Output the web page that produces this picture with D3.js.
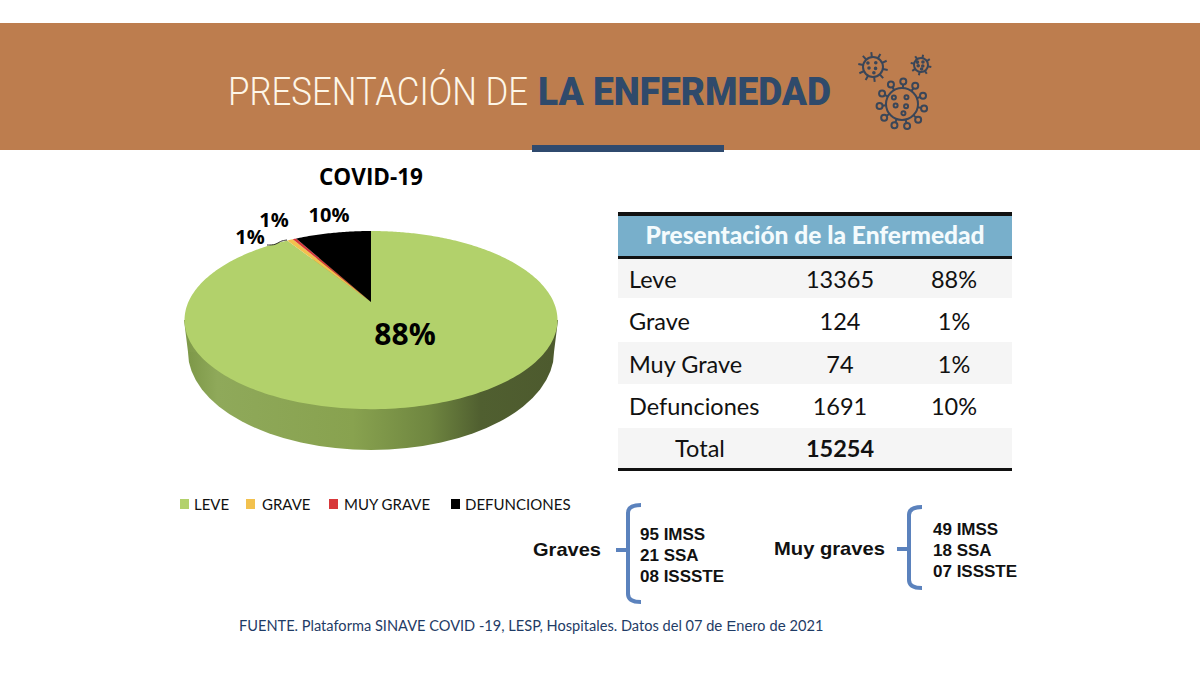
<!DOCTYPE html>
<html><head><meta charset="utf-8">
<script src="https://cdnjs.cloudflare.com/ajax/libs/d3/7.8.5/d3.min.js"></script>
<style>html,body{margin:0;background:#fff}svg{display:block}</style></head>
<body><svg id="c" width="1200" height="674"></svg>
<script>
const categories=["Leve","Grave","Muy Grave","Defunciones"];
const values=[13365,124,74,1691];
const pctLabels=["88%","1%","1%","10%"];
const legendLabels=["LEVE","GRAVE","MUY GRAVE","DEFUNCIONES"];
const sliceColors=["#b2d16b","#f2c14e","#d8383a","#000000"];
const totalLabel="Total", totalValue=15254;
const tableTitle="Presentación de la Enfermedad";
const gravesList=["95 IMSS","21 SSA","08 ISSSTE"];
const muyGravesList=["49 IMSS","18 SSA","07 ISSSTE"];
const source=["FUENTE. Plataforma SINAVE COVID -19, LESP, Hospitales. Datos del 07 ","de Enero de"," 2021"];

const svg=d3.select("#c");
const defs=svg.append("defs");
const LAT="Lato, 'Open Sans', sans-serif", ARI="'Liberation Sans', Arial, sans-serif";

/* banner */
svg.append("rect").attr("x",0).attr("y",23).attr("width",1200).attr("height",127).attr("fill","#bd7d4e");
svg.append("rect").attr("x",532).attr("y",145).attr("width",192).attr("height",7).attr("fill","#2f4a6e");
svg.append("text").attr("x",228).attr("y",105).attr("font-family","Roboto, sans-serif").attr("font-weight",300)
  .attr("font-size",38).attr("fill","#fdf6e8").attr("textLength",300).attr("lengthAdjust","spacingAndGlyphs").text("PRESENTACIÓN DE");
svg.append("text").attr("x",538).attr("y",105).attr("font-family","Roboto, sans-serif").attr("font-weight",900)
  .attr("font-size",38).attr("fill","#2f4a6b").attr("textLength",293).attr("lengthAdjust","spacingAndGlyphs").text("LA ENFERMEDAD");

/* virus icons */
function virus(cx,cy,r,n,knob,sw){
  const g=svg.append("g").attr("transform",`translate(${cx},${cy})`).attr("stroke","#3a4658").attr("fill","none").attr("stroke-width",sw);
  g.append("circle").attr("r",r);
  d3.range(n).forEach(i=>{
    const a=i/n*2*Math.PI+.2, L=r*(knob?1.22:1.5);
    g.append("line").attr("x1",r*Math.cos(a)).attr("y1",r*Math.sin(a)).attr("x2",L*Math.cos(a)).attr("y2",L*Math.sin(a));
    if(knob) g.append("circle").attr("cx",(L+3)*Math.cos(a)).attr("cy",(L+3)*Math.sin(a)).attr("r",3);
  });
  d3.range(5).forEach(i=>{const a=i*2.4+.5, q=r*.65*Math.sqrt((i+1)/5);
    g.append("circle").attr("cx",q*Math.cos(a)).attr("cy",q*Math.sin(a)).attr("r",knob?2:.8).attr("fill",knob?"none":"#3a4658");});
}
virus(873,67,10,10,false,2);
virus(921,65,7,8,false,2);
virus(902,104,16,11,true,2);

/* 3D pie: every slice angle comes from d3.pie, then a perspective projection */
const cx=371,apexY=302,a=182.6,b=85.4,k=0.203,warp=0.3;
const project=(theta)=>{ // theta clockwise from 12 o'clock, data angle
  let s=theta>Math.PI?theta-2*Math.PI:theta;
  const phi=s-warp*Math.sin(s);
  const u=Math.sin(phi),t=-Math.cos(phi),w=1-k*t;
  return [cx+a*u/w,apexY+b*t/w];
};
const pie=d3.pie().sort(null).value(d=>d)(values);
const line=d3.line();
function wedge(d){
  const n=Math.max(4,Math.ceil((d.endAngle-d.startAngle)*60));
  const pts=[[cx,apexY]];
  d3.range(n+1).forEach(i=>pts.push(project(d.startAngle+(d.endAngle-d.startAngle)*i/n)));
  return line(pts)+"Z";
}
const grad=defs.append("linearGradient").attr("id","side");
[[0,"#7d9848"],[.08,"#8fa95a"],[.45,"#88a24f"],[.66,"#6f8640"],[.8,"#505f30"],[1,"#4d5a2e"]]
  .forEach(s=>grad.append("stop").attr("offset",s[0]).attr("stop-color",s[1]));
const side=svg.append("g");
side.append("ellipse").attr("cx",cx).attr("cy",352).attr("rx",183).attr("ry",98).attr("fill","url(#side)");
side.append("path").attr("d","M184,320L188,352L554,352L558,320Z").attr("fill","url(#side)");
svg.append("g").selectAll("path").data(pie).join("path").attr("d",wedge).attr("fill",(d,i)=>sliceColors[i]);
const leader=d3.line().curve(d3.curveBasis)([[267,245],[276,245],[280,241],[287,240]]);
svg.append("path").attr("d",leader).attr("fill","none").attr("stroke","#333").attr("stroke-width",1);

const labelPos=[[405,345,30],[274,227,20],[250,244,20],[329,222,20]];
svg.append("g").selectAll("text").data(pctLabels).join("text")
  .attr("x",(d,i)=>labelPos[i][0]).attr("y",(d,i)=>labelPos[i][1]).attr("font-size",(d,i)=>labelPos[i][2])
  .attr("font-family","'Open Sans', sans-serif").attr("font-weight",700).attr("text-anchor","middle").attr("fill","#000").text(d=>d);
svg.append("text").attr("x",371).attr("y",185).attr("text-anchor","middle").attr("font-family","'Open Sans', sans-serif")
  .attr("font-weight",700).attr("font-size",22.5).attr("fill","#000").text("COVID-19");

/* legend */
const legX=[180,246,329,451], legT=[14,16,15,14];
const lg=svg.append("g").selectAll("g").data(legendLabels).join("g").attr("transform",(d,i)=>`translate(${legX[i]},499)`);
lg.append("rect").attr("width",9).attr("height",10).attr("fill",(d,i)=>sliceColors[i]);
lg.append("text").attr("x",(d,i)=>legT[i]).attr("y",11).attr("font-family",LAT).attr("font-size",15).attr("fill","#111").text(d=>d);

/* table */
const tx=618,tw=394;
const rowY=[258,298,342,384,428,469];
const colX=[629,840,954];
svg.append("rect").attr("x",tx).attr("y",216).attr("width",tw).attr("height",40).attr("fill","#78afcb");
svg.append("text").attr("x",815).attr("y",244).attr("text-anchor","middle").attr("font-family",LAT).attr("font-weight",900)
  .attr("font-size",24.5).attr("fill","#f4fbfd").text(tableTitle);
const rows=categories.map((c,i)=>({c,v:values[i],p:pctLabels[i]}));
const all=[...rows,{c:totalLabel,v:totalValue,p:"",total:true}];
const tg=svg.append("g").selectAll("g").data(all).join("g");
tg.append("rect").attr("x",tx).attr("y",(d,i)=>rowY[i]).attr("width",tw).attr("height",(d,i)=>rowY[i+1]-rowY[i])
  .attr("fill",(d,i)=>i%2==0?"#f5f5f5":"#fff");
const ty=(d,i)=>(rowY[i]+rowY[i+1])/2+(i==4?8:10)-(i==3?1:0);
tg.append("text").attr("x",(d)=>d.total?700:colX[0]).attr("y",ty).attr("text-anchor",d=>d.total?"middle":"start")
  .attr("font-family",LAT).attr("font-size",23.5).attr("fill","#111").text(d=>d.c);
tg.append("text").attr("x",colX[1]).attr("y",ty).attr("text-anchor","middle").attr("font-family",LAT)
  .attr("font-weight",d=>d.total?700:400).attr("font-size",23.5).attr("fill","#111").text(d=>d.v);
tg.append("text").attr("x",colX[2]).attr("y",ty).attr("text-anchor","middle").attr("font-family",LAT)
  .attr("font-size",23.5).attr("fill","#111").text(d=>d.p);
[[212,4],[256,3],[468,3]].forEach(r=>svg.append("rect").attr("x",tx).attr("y",r[0]).attr("width",tw).attr("height",r[1]).attr("fill","#111"));

/* braces */
function brace(x,y0,y1,mid,title,titleX,list,lx,ly){
  const p=d3.path();
  p.moveTo(x+13,y0);p.quadraticCurveTo(x,y0,x,y0+8);p.lineTo(x,y1-8);p.quadraticCurveTo(x,y1,x+13,y1);
  p.moveTo(x,mid);p.lineTo(x-12,mid);
  svg.append("path").attr("d",p.toString()).attr("fill","none").attr("stroke","#5b82bd").attr("stroke-width",4);
  svg.append("text").attr("x",titleX).attr("y",mid+6).attr("font-family",ARI).attr("font-weight",700).attr("font-size",19).attr("fill","#111")
    .attr("textLength",title.length>6?111:68).attr("lengthAdjust","spacingAndGlyphs").text(title);
  svg.append("g").selectAll("text").data(list).join("text").attr("x",lx).attr("y",(d,i)=>ly+i*21)
    .attr("font-family",ARI).attr("font-weight",700).attr("font-size",17).attr("fill","#111").text(d=>d);
}
brace(628,505,602,550,"Graves",533,gravesList,640,540);
brace(909,507,588,549,"Muy graves",774,muyGravesList,933,535);

/* source */
const st=svg.append("text").attr("x",239).attr("y",631).attr("font-family",LAT).attr("font-size",14.6).attr("fill","#1f3c66");
st.append("tspan").text(source[0]);
st.append("tspan").attr("font-family",ARI).text(source[1]);
st.append("tspan").text(source[2]);
</script></body></html>
